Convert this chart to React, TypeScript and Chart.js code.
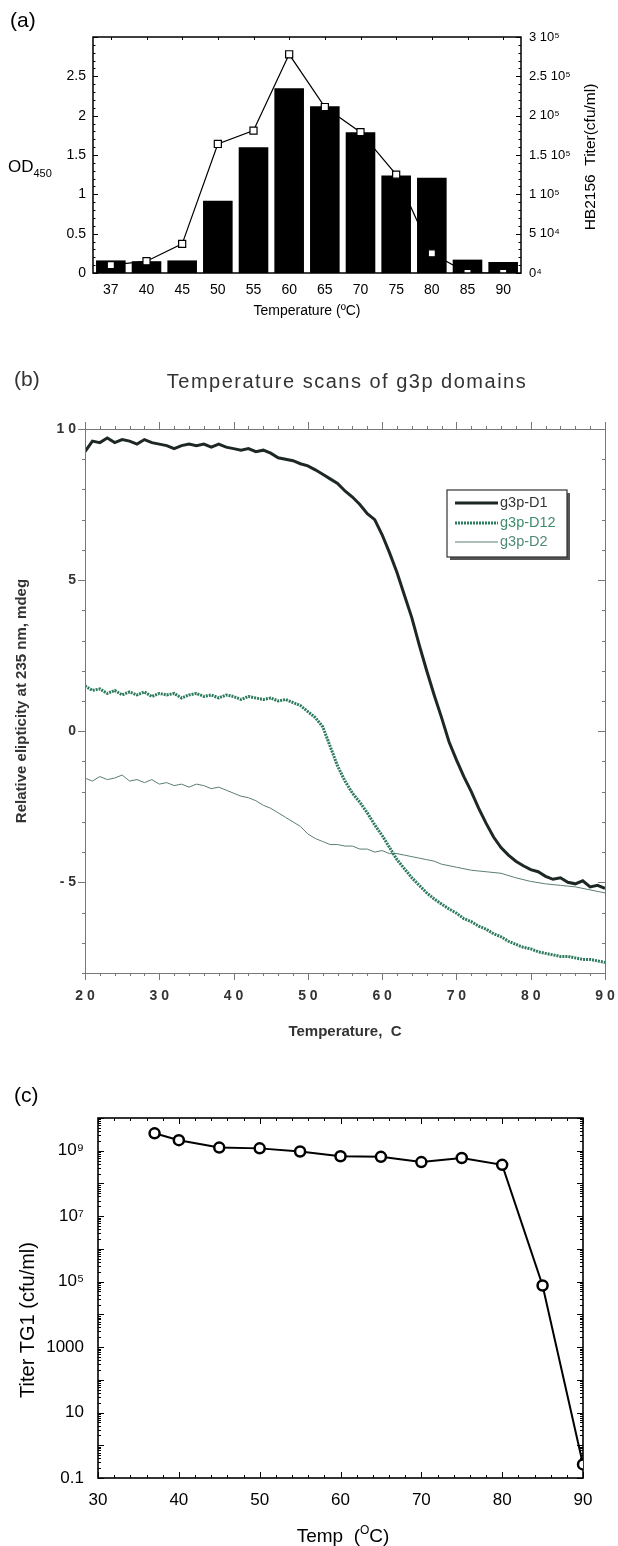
import React, { useEffect, useRef } from "react";
import { Chart, registerables } from "chart.js";
Chart.register(...registerables);

const SANS = "'Liberation Sans', Arial, Helvetica, sans-serif";

// ---------------- Panel (a) data ----------------
const tempLabelsA = ["37", "40", "45", "50", "55", "60", "65", "70", "75", "80", "85", "90"];
const od450Values = [0.16, 0.15, 0.16, 0.92, 1.6, 2.35, 2.12, 1.79, 1.24, 1.21, 0.17, 0.14];
const hb2156Titer = [10000, 15000, 37000, 164000, 181000, 278000, 211000, 179000, 125000, 25000, 0, 0];
const odTickValues = [0, 0.5, 1, 1.5, 2, 2.5, 3];
const odTickLabels = ["0", "0.5", "1", "1.5", "2", "2.5", ""];
const titerTickValues = [0, 50000, 100000, 150000, 200000, 250000, 300000];
const titerTickLabels = ["0⁴", "5 10⁴", "1 10⁵", "1.5 10⁵", "2 10⁵", "2.5 10⁵", "3 10⁵"];

// ---------------- Panel (b) data ----------------
const tempB = [
  20, 21, 22, 23, 24, 25, 26, 27, 28, 29,
  30, 31, 32, 33, 34, 35, 36, 37, 38, 39,
  40, 41, 42, 43, 44, 45, 46, 47, 48, 49,
  50, 51, 52, 53, 54, 55, 56, 57, 58, 59,
  60, 61, 62, 63, 64, 65, 66, 67, 68, 69,
  70, 71, 72, 73, 74, 75, 76, 77, 78, 79,
  80, 81, 82, 83, 84, 85, 86, 87, 88, 89,
  90,
];
const ellipD1 = [
  9.25, 9.6, 9.55, 9.7, 9.55, 9.65, 9.6, 9.5, 9.65, 9.55,
  9.5, 9.45, 9.35, 9.45, 9.5, 9.45, 9.5, 9.4, 9.5, 9.4,
  9.35, 9.3, 9.35, 9.25, 9.3, 9.2, 9.05, 9.0, 8.95, 8.85,
  8.78, 8.65, 8.5, 8.35, 8.2, 7.95, 7.75, 7.5, 7.2, 7.0,
  6.5, 5.9, 5.25, 4.5, 3.75, 2.85, 2.0, 1.2, 0.45, -0.35,
  -0.95, -1.5, -2.0, -2.55, -3.05, -3.5, -3.85, -4.1, -4.3, -4.45,
  -4.58, -4.65, -4.8, -4.9, -4.85, -5.0, -5.05, -4.95, -5.15, -5.1,
  -5.2,
];
const ellipD12 = [
  1.5, 1.35, 1.4, 1.25, 1.35, 1.2, 1.3, 1.2, 1.3, 1.15,
  1.25, 1.2, 1.25, 1.1, 1.2, 1.25, 1.15, 1.2, 1.1, 1.2,
  1.15, 1.05, 1.15, 1.1, 1.05, 1.1, 1.0, 1.05, 0.95, 0.85,
  0.65, 0.45, 0.15, -0.5, -1.15, -1.65, -2.05, -2.35, -2.7, -3.1,
  -3.45, -3.85, -4.25, -4.55, -4.85, -5.1, -5.35, -5.55, -5.72, -5.88,
  -6.02, -6.2, -6.3, -6.45, -6.55, -6.7, -6.8, -6.95, -7.05, -7.15,
  -7.2, -7.3, -7.35, -7.4, -7.45, -7.45, -7.5, -7.55, -7.55, -7.6,
  -7.65,
];
const tempD2 = [
  20, 21, 22, 23, 24, 25, 26, 27, 28, 29,
  30, 31, 32, 33, 34, 35, 36, 37, 38, 39,
  40, 41, 42, 43, 44, 45, 46, 47, 48, 49,
  50, 51, 52, 53, 54, 55, 56, 57, 58, 59,
  60, 61, 62, 63, 64, 65, 66, 67, 68, 69,
  70, 72, 74, 76, 78, 80, 82, 84, 86, 88, 90,
];
const ellipD2 = [
  -1.55, -1.65, -1.5, -1.6, -1.55, -1.45, -1.65, -1.6, -1.7, -1.6,
  -1.75, -1.7, -1.8, -1.75, -1.85, -1.75, -1.8, -1.9, -1.85, -1.95,
  -2.05, -2.15, -2.2, -2.3, -2.45, -2.55, -2.7, -2.85, -3.0, -3.15,
  -3.4, -3.55, -3.65, -3.75, -3.75, -3.8, -3.8, -3.9, -3.9, -4.0,
  -3.95, -4.05, -4.05, -4.1, -4.15, -4.2, -4.25, -4.3, -4.4, -4.45,
  -4.5, -4.6, -4.65, -4.7, -4.85, -4.97, -5.05, -5.1, -5.15, -5.25, -5.35,
];
const seriesNamesB = ["g3p-D1", "g3p-D12", "g3p-D2"];
const xTickValuesB = [20, 30, 40, 50, 60, 70, 80, 90];
const xTickLabelsB = ["2 0", "3 0", "4 0", "5 0", "6 0", "7 0", "8 0", "9 0"];
const yTickValuesB = [-5, 0, 5, 10];
const yTickLabelsB = ["- 5", "0", "5", "1 0"];

// ---------------- Panel (c) data ----------------
const tempC = [37, 40, 45, 50, 55, 60, 65, 70, 75, 80, 85, 90];
const titerTG1 = [3.4e9, 2.1e9, 1.25e9, 1.18e9, 9.5e8, 6.8e8, 6.5e8, 4.5e8, 6.0e8, 3.7e8, 7.6e4, 0.26];
const yTickValuesC = [0.1, 1, 10, 100, 1000, 1e4, 1e5, 1e6, 1e7, 1e8, 1e9, 1e10];
const yTickLabelsC = ["0.1", "", "10", "", "1000", "", "10⁵", "", "10⁷", "", "10⁹", ""];
const xTickValuesC = [30, 40, 50, 60, 70, 80, 90];
const xTickLabelsC = ["30", "40", "50", "60", "70", "80", "90"];

// ---------------- helpers ----------------
function labelFor(values: number[], labels: string[], v: number) {
  for (let i = 0; i < values.length; i++) {
    if (Math.abs(values[i] - v) <= Math.abs(values[i]) * 1e-6 + 1e-9) return labels[i];
  }
  return "";
}

function range(a: number, b: number, st: number) {
  const out: number[] = [];
  const n = Math.round((b - a) / st);
  for (let i = 0; i <= n; i++) out.push(a + i * st);
  return out;
}

type Edge = "left" | "right" | "top" | "bottom";
function marks(chart: any, scaleId: string, values: number[], edge: Edge, len: number) {
  const { ctx, chartArea: ca } = chart;
  const s = chart.scales[scaleId];
  ctx.beginPath();
  for (const v of values) {
    const p = Math.round(s.getPixelForValue(v)) + 0.5;
    if (edge === "left") { ctx.moveTo(ca.left, p); ctx.lineTo(ca.left + len, p); }
    else if (edge === "right") { ctx.moveTo(ca.right, p); ctx.lineTo(ca.right - len, p); }
    else if (edge === "top") { ctx.moveTo(p, ca.top); ctx.lineTo(p, ca.top + len); }
    else { ctx.moveTo(p, ca.bottom); ctx.lineTo(p, ca.bottom - len); }
  }
  ctx.stroke();
}

function fixWidth(w: number) {
  return (s: any) => { s.width = w; s.paddingTop = 0; s.paddingBottom = 0; };
}
function fixHeight(h: number) {
  return (s: any) => { s.height = h; s.paddingLeft = 0; s.paddingRight = 0; };
}
function setTicks(values: number[]) {
  return (s: any) => { s.ticks = values.map((v) => ({ value: v })); };
}

// ---------------- configs ----------------
function configA(): any {
  return {
    data: {
      labels: tempLabelsA,
      datasets: [
        {
          type: "line",
          label: "HB2156 Titer",
          data: hb2156Titer,
          yAxisID: "y1",
          borderColor: "#000",
          borderWidth: 1.2,
          pointStyle: "rect",
          pointRadius: 5,
          pointBackgroundColor: "#fff",
          pointBorderColor: "#000",
          pointBorderWidth: 1.2,
          order: 0,
        },
        {
          type: "bar",
          label: "OD450",
          data: od450Values,
          yAxisID: "y",
          backgroundColor: "#000",
          barPercentage: 0.83,
          categoryPercentage: 1.0,
          order: 1,
        },
      ],
    },
    options: {
      responsive: false,
      animation: false,
      devicePixelRatio: 1,
      layout: { padding: { top: 37, left: 0, right: 0, bottom: 0 } },
      plugins: { legend: { display: false }, tooltip: { enabled: false } },
      scales: {
        x: {
          type: "category",
          grid: { display: false, drawTicks: false },
          border: { display: false },
          ticks: { color: "#000", font: { family: SANS, size: 14 }, padding: 9, maxRotation: 0, autoSkip: false },
          title: { display: true, text: "Temperature (ºC)", color: "#000", font: { family: SANS, size: 14 }, padding: { top: 0, bottom: 10 } },
          afterFit: fixHeight(57),
        },
        y: {
          type: "linear",
          position: "left",
          min: 0,
          max: 3,
          grid: { display: false, drawTicks: false },
          border: { display: false },
          afterBuildTicks: setTicks(odTickValues),
          ticks: { color: "#000", font: { family: SANS, size: 14 }, padding: 7, callback: (v: number) => labelFor(odTickValues, odTickLabels, v) },
          afterFit: fixWidth(93),
        },
        y1: {
          type: "linear",
          position: "right",
          min: 0,
          max: 300000,
          grid: { display: false, drawTicks: false },
          border: { display: false },
          afterBuildTicks: setTicks(titerTickValues),
          ticks: { color: "#000", font: { family: SANS, size: 13 }, padding: 8, callback: (v: number) => labelFor(titerTickValues, titerTickLabels, v) },
          afterFit: fixWidth(97),
        },
      },
    },
    plugins: [
      {
        id: "decorA",
        afterDraw(chart: any) {
          const { ctx, chartArea: ca } = chart;
          ctx.save();
          ctx.strokeStyle = "#000";
          ctx.lineWidth = 1.5;
          ctx.strokeRect(ca.left, ca.top, ca.right - ca.left, ca.bottom - ca.top);
          ctx.lineWidth = 1;
          marks(chart, "y", range(0, 3, 0.5), "left", 5);
          marks(chart, "y", range(0, 3, 0.1), "left", 2.5);
          marks(chart, "y1", range(0, 300000, 50000), "right", 5);
          marks(chart, "y1", range(0, 300000, 10000), "right", 2.5);
          marks(chart, "x", range(0, tempLabelsA.length - 1, 1), "top", 3);
          ctx.fillStyle = "#000";
          ctx.textAlign = "left";
          ctx.textBaseline = "middle";
          ctx.font = `21px ${SANS}`;
          ctx.fillText("(a)", 10, 21);
          ctx.textBaseline = "alphabetic";
          ctx.font = `17px ${SANS}`;
          ctx.fillText("OD", 8, 172);
          const w = ctx.measureText("OD").width;
          ctx.font = `11px ${SANS}`;
          ctx.fillText("450", 8 + w, 177);
          ctx.translate(591, 157);
          ctx.rotate(-Math.PI / 2);
          ctx.textAlign = "center";
          ctx.textBaseline = "middle";
          ctx.font = `15.5px ${SANS}`;
          ctx.fillText("HB2156  Titer(cfu/ml)", 0, 0);
          ctx.restore();
        },
      },
    ],
  };
}

function toPoints(xs: number[], ys: number[]) {
  return xs.map((x, i) => ({ x, y: ys[i] }));
}

const colD1 = "#1d2824";
const colD12 = "#2c7b5c";
const colD2 = "#5b7f71";

function configB(): any {
  return {
    type: "line",
    data: {
      datasets: [
        { label: seriesNamesB[0], data: toPoints(tempB, ellipD1), borderColor: colD1, borderWidth: 3, pointRadius: 0, tension: 0 },
        { label: seriesNamesB[1], data: toPoints(tempB, ellipD12), borderColor: colD12, borderWidth: 3, borderDash: [2, 1], pointRadius: 0, tension: 0 },
        { label: seriesNamesB[2], data: toPoints(tempD2, ellipD2), borderColor: colD2, borderWidth: 1, pointRadius: 0, tension: 0 },
      ],
    },
    options: {
      responsive: false,
      animation: false,
      devicePixelRatio: 1,
      layout: { padding: { top: 84, left: 0, right: 13, bottom: 0 } },
      plugins: { legend: { display: false }, tooltip: { enabled: false } },
      scales: {
        x: {
          type: "linear",
          min: 20,
          max: 90,
          grid: { display: false, drawTicks: false },
          border: { display: false },
          afterBuildTicks: setTicks(xTickValuesB),
          ticks: { color: "#333", font: { family: SANS, size: 14, weight: "bold" }, padding: 15, maxRotation: 0, callback: (v: number) => labelFor(xTickValuesB, xTickLabelsB, v) },
          title: { display: true, text: "Temperature,  C", color: "#333", font: { family: SANS, size: 15, weight: "bold" }, padding: { top: 0, bottom: 4 } },
          afterFit: fixHeight(72),
        },
        y: {
          type: "linear",
          min: -8,
          max: 10,
          grid: { display: false, drawTicks: false },
          border: { display: false },
          afterBuildTicks: setTicks(yTickValuesB),
          ticks: { color: "#333", font: { family: SANS, size: 14, weight: "bold" }, padding: 9, callback: (v: number) => labelFor(yTickValuesB, yTickLabelsB, v) },
          title: { display: true, text: "Relative elipticity at 235 nm, mdeg", color: "#333", font: { family: SANS, size: 15, weight: "bold" }, padding: { top: 13, bottom: 0 } },
          afterFit: fixWidth(85),
        },
      },
    },
    plugins: [
      {
        id: "decorB",
        afterDraw(chart: any) {
          const { ctx, chartArea: ca } = chart;
          ctx.save();
          ctx.strokeStyle = "#777";
          ctx.lineWidth = 1;
          ctx.strokeRect(ca.left + 0.5, ca.top + 0.5, ca.right - ca.left, ca.bottom - ca.top);
          marks(chart, "x", range(20, 90, 10), "top", -7);
          marks(chart, "x", range(20, 90, 2), "top", -3);
          marks(chart, "x", range(20, 90, 10), "bottom", -7);
          marks(chart, "x", range(20, 90, 2), "bottom", -3);
          marks(chart, "y", range(-5, 10, 5), "left", -7);
          marks(chart, "y", range(-8, 10, 1), "left", -3);
          marks(chart, "y", range(-5, 10, 5), "right", 7);
          marks(chart, "y", range(-8, 10, 1), "right", 3);

          // title and panel label
          ctx.fillStyle = "#333";
          ctx.textBaseline = "middle";
          ctx.textAlign = "center";
          ctx.font = `20px ${SANS}`;
          try { (ctx as any).letterSpacing = "1.5px"; } catch (e) {}
          ctx.fillText("Temperature scans of g3p domains", 347, 37);
          try { (ctx as any).letterSpacing = "0px"; } catch (e) {}
          ctx.textAlign = "left";
          ctx.font = `21px ${SANS}`;
          ctx.fillText("(b)", 14, 35);

          // legend box
          const bx = ca.left + 362, by = ca.top + 61, bw = 120, bh = 67;
          ctx.fillStyle = "#555";
          ctx.fillRect(bx + 3, by + 3, bw, bh);
          ctx.fillStyle = "#fff";
          ctx.fillRect(bx, by, bw, bh);
          ctx.strokeStyle = "#333";
          ctx.lineWidth = 1.2;
          ctx.strokeRect(bx, by, bw, bh);
          const rows = [74, 94, 113];
          const textCols = ["#333", "#3d8c6c", "#4f8a74"];
          chart.data.datasets.forEach((ds: any, i: number) => {
            const y = ca.top + rows[i];
            ctx.beginPath();
            ctx.strokeStyle = ds.borderColor;
            ctx.lineWidth = ds.borderWidth;
            ctx.setLineDash(ds.borderDash || []);
            ctx.moveTo(ca.left + 370, y);
            ctx.lineTo(ca.left + 413, y);
            ctx.stroke();
            ctx.setLineDash([]);
            ctx.fillStyle = textCols[i];
            ctx.font = `14.5px ${SANS}`;
            ctx.textAlign = "left";
            ctx.textBaseline = "middle";
            ctx.fillText(ds.label, ca.left + 415, y);
          });
          ctx.restore();
        },
      },
    ],
  };
}

function configC(): any {
  return {
    type: "line",
    data: {
      datasets: [
        {
          label: "Titer TG1",
          data: toPoints(tempC, titerTG1),
          borderColor: "#000",
          borderWidth: 2,
          pointStyle: "circle",
          pointRadius: 5,
          pointBackgroundColor: "#fff",
          pointBorderColor: "#000",
          pointBorderWidth: 2.5,
          tension: 0,
        },
      ],
    },
    options: {
      responsive: false,
      animation: false,
      devicePixelRatio: 1,
      layout: { padding: { top: 73, left: 0, right: 35, bottom: 0 } },
      plugins: { legend: { display: false }, tooltip: { enabled: false } },
      scales: {
        x: {
          type: "linear",
          min: 30,
          max: 90,
          grid: { display: false, drawTicks: false },
          border: { display: false },
          afterBuildTicks: setTicks(xTickValuesC),
          ticks: { color: "#000", font: { family: SANS, size: 17 }, padding: 12, maxRotation: 0, callback: (v: number) => labelFor(xTickValuesC, xTickLabelsC, v) },
          afterFit: fixHeight(68),
        },
        y: {
          type: "logarithmic",
          min: 0.1,
          max: 1e10,
          grid: { display: false, drawTicks: false },
          border: { display: false },
          afterBuildTicks: setTicks(yTickValuesC),
          ticks: { color: "#000", font: { family: SANS, size: 17 }, padding: 14, autoSkip: false, callback: (v: number) => labelFor(yTickValuesC, yTickLabelsC, v) },
          afterFit: fixWidth(98),
        },
      },
    },
    plugins: [
      {
        id: "decorC",
        beforeDatasetsDraw(chart: any) {
          const { ctx, chartArea: ca } = chart;
          ctx.save();
          ctx.strokeStyle = "#000";
          ctx.lineWidth = 1.6;
          ctx.strokeRect(ca.left, ca.top, ca.right - ca.left, ca.bottom - ca.top);
          ctx.lineWidth = 1;
          const decades = range(-1, 10, 1).map((e) => Math.pow(10, e));
          const minors: number[] = [];
          for (const d of decades) for (let m = 2; m <= 9; m++) if (d * m < 1e10) minors.push(d * m);
          marks(chart, "y", decades, "left", 6);
          marks(chart, "y", minors, "left", 3);
          marks(chart, "y", decades, "right", 6);
          marks(chart, "y", minors, "right", 3);
          marks(chart, "x", range(30, 90, 10), "bottom", 6);
          marks(chart, "x", range(30, 90, 2), "bottom", 3);
          marks(chart, "x", range(30, 90, 10), "top", 6);
          marks(chart, "x", range(30, 90, 2), "top", 3);
          ctx.restore();
        },
        afterDraw(chart: any) {
          const { ctx } = chart;
          ctx.save();
          ctx.fillStyle = "#000";
          ctx.textAlign = "left";
          ctx.textBaseline = "middle";
          ctx.font = `21px ${SANS}`;
          ctx.fillText("(c)", 14, 51);
          // x title with superscript O
          const p1 = "Temp  (";
          const p3 = "C)";
          ctx.font = `19px ${SANS}`;
          const w1 = ctx.measureText(p1).width;
          const w3 = ctx.measureText(p3).width;
          ctx.font = `12px ${SANS}`;
          const w2 = ctx.measureText("O").width;
          const total = w1 + w2 + w3;
          let x = 343 - total / 2;
          const yb = 497;
          ctx.textBaseline = "alphabetic";
          ctx.font = `19px ${SANS}`;
          ctx.fillText(p1, x, yb);
          x += w1;
          ctx.font = `12px ${SANS}`;
          ctx.fillText("O", x, yb - 8);
          x += w2;
          ctx.font = `19px ${SANS}`;
          ctx.fillText(p3, x, yb);
          // y title
          ctx.translate(28, 275);
          ctx.rotate(-Math.PI / 2);
          ctx.textAlign = "center";
          ctx.textBaseline = "middle";
          ctx.font = `20px ${SANS}`;
          ctx.fillText("Titer TG1 (cfu/ml)", 0, 0);
          ctx.restore();
        },
      },
    ],
  };
}

function useChart(ref: React.RefObject<HTMLCanvasElement | null>, make: () => any) {
  useEffect(() => {
    if (!ref.current) return;
    const c = new Chart(ref.current, make());
    return () => c.destroy();
  }, []);
}

export default function App() {
  const refA = useRef<HTMLCanvasElement | null>(null);
  const refB = useRef<HTMLCanvasElement | null>(null);
  const refC = useRef<HTMLCanvasElement | null>(null);
  useChart(refA, configA);
  useChart(refB, configB);
  useChart(refC, configC);
  const cs = (top: number, h: number): React.CSSProperties => ({ position: "absolute", left: 0, top, width: 618, height: h, display: "block" });
  return (
    <div style={{ position: "absolute", left: 0, top: 0, width: 618, height: 1546, background: "#fff", overflow: "hidden" }}>
      <canvas ref={refA} width={618} height={330} style={cs(0, 330)} />
      <canvas ref={refB} width={618} height={700} style={cs(345, 700)} />
      <canvas ref={refC} width={618} height={501} style={cs(1045, 501)} />
    </div>
  );
}
